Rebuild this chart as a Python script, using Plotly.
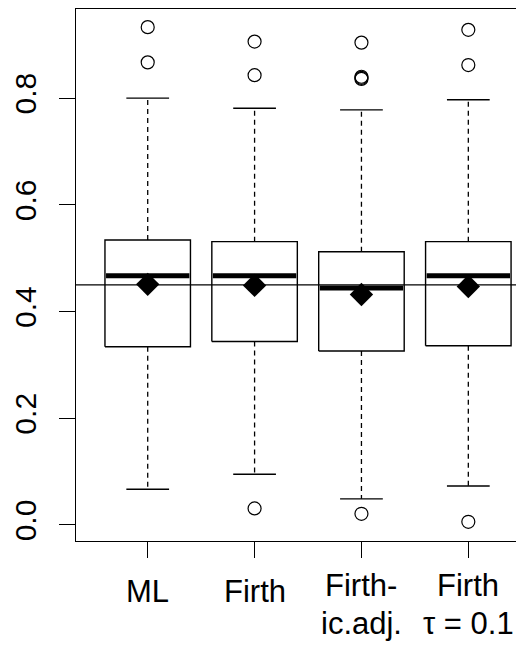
import plotly.graph_objects as go

# ---- data ----
categories = ["ML", "Firth", "Firth-ic.adj.", "Firth tau=0.1"]
label_lines = [["ML"], ["Firth"], ["Firth-", "ic.adj."], ["Firth", "τ = 0.1"]]
positions = [1, 2, 3, 4]
q1 = [0.334, 0.344, 0.326, 0.336]
median = [0.467, 0.467, 0.444, 0.467]
q3 = [0.534, 0.531, 0.512, 0.531]
lower_whisker = [0.067, 0.095, 0.049, 0.073]
upper_whisker = [0.800, 0.781, 0.778, 0.797]
means = [0.451, 0.449, 0.432, 0.447]
outliers = [
    [0.933, 0.867],
    [0.906, 0.843, 0.031],
    [0.904, 0.840, 0.838, 0.836, 0.021],
    [0.928, 0.862, 0.006],
]
ref_value = 0.45
y_ticks = [0.0, 0.2, 0.4, 0.6, 0.8]

BOX_HALF = 0.4
CAP_HALF = 0.2
INK = "black"

fig = go.Figure()

for i, x in enumerate(positions):
    fig.add_trace(go.Scatter(
        x=[x - BOX_HALF, x + BOX_HALF, x + BOX_HALF, x - BOX_HALF, x - BOX_HALF],
        y=[q1[i], q1[i], q3[i], q3[i], q1[i]],
        mode="lines", line=dict(color=INK, width=1.4),
        hoverinfo="skip", showlegend=False))
    fig.add_trace(go.Scatter(
        x=[x, x, None, x, x],
        y=[q3[i], upper_whisker[i], None, q1[i], lower_whisker[i]],
        mode="lines", line=dict(color=INK, width=1.3, dash="5px,4px"),
        hoverinfo="skip", showlegend=False))
    fig.add_trace(go.Scatter(
        x=[x - CAP_HALF, x + CAP_HALF, None, x - CAP_HALF, x + CAP_HALF],
        y=[upper_whisker[i], upper_whisker[i], None, lower_whisker[i], lower_whisker[i]],
        mode="lines", line=dict(color=INK, width=1.4),
        hoverinfo="skip", showlegend=False))
    fig.add_trace(go.Scatter(
        x=[x - BOX_HALF + 0.01, x + BOX_HALF - 0.01],
        y=[median[i], median[i]],
        mode="lines", line=dict(color=INK, width=5),
        hoverinfo="skip", showlegend=False))
    fig.add_trace(go.Scatter(
        x=[x] * len(outliers[i]), y=outliers[i],
        mode="markers",
        marker=dict(symbol="circle-open", size=13, color=INK, line=dict(width=1.2, color=INK)),
        hoverinfo="skip", showlegend=False))

fig.add_trace(go.Scatter(
    x=[0.0, 5.0], y=[ref_value, ref_value],
    mode="lines", line=dict(color=INK, width=1.1),
    hoverinfo="skip", showlegend=False))

fig.add_trace(go.Scatter(
    x=positions, y=means, mode="markers",
    marker=dict(symbol="diamond", size=18, color=INK),
    hoverinfo="skip", showlegend=False))

font_family = "Liberation Sans, Arial, sans-serif"

single_shift = -50
multi_shifts = [-44, -82]
for i, lines in enumerate(label_lines):
    shifts = [single_shift] if len(lines) == 1 else multi_shifts
    for line_text, ys in zip(lines, shifts):
        fig.add_annotation(
            x=positions[i], xref="x", y=0, yref="paper",
            text=line_text, showarrow=False,
            xanchor="center", yanchor="middle", yshift=ys,
            font=dict(family=font_family, size=31, color="black"))

fig.update_layout(
    width=516, height=637,
    margin=dict(l=68, r=0, t=1, b=104),
    paper_bgcolor="white", plot_bgcolor="white",
    font=dict(family=font_family, size=30, color="black"),
    xaxis=dict(
        range=[0.329, 4.521],
        tickmode="array", tickvals=positions, ticktext=["", "", "", ""],
        ticks="outside", ticklen=16, tickwidth=1.2, tickcolor=INK,
        showline=True, linecolor=INK, linewidth=1.3, mirror=True,
        showgrid=False, zeroline=False,
    ),
    yaxis=dict(
        range=[-0.030, 0.967],
        tickmode="array", tickvals=y_ticks,
        ticktext=[f"{v:.1f}" for v in y_ticks],
        tickangle=-90,
        ticks="outside", ticklen=16, tickwidth=1.2, tickcolor=INK,
        showline=True, linecolor=INK, linewidth=1.3, mirror=False,
        showgrid=False, zeroline=False,
        ticklabelstandoff=11,
        tickfont=dict(size=30),
    ),
)

fig.write_html("out.html")
